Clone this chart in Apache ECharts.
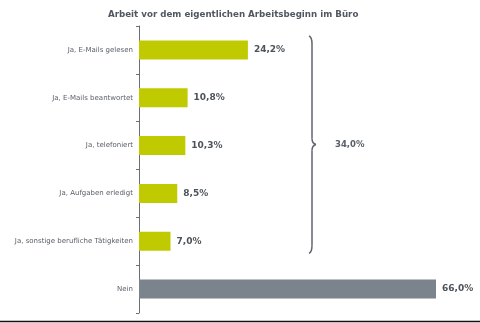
<!DOCTYPE html>
<html><head><meta charset="utf-8">
<script src="https://cdn.jsdelivr.net/npm/echarts@6/dist/echarts.min.js"></script>
<style>html,body{margin:0;padding:0;background:#fff}#c{width:480px;height:323px}</style>
</head><body><div id="c"></div>
<script>
const titleText = "Arbeit vor dem eigentlichen Arbeitsbeginn im Büro";
const categories = ["Ja, E-Mails gelesen","Ja, E-Mails beantwortet","Ja, telefoniert","Ja, Aufgaben erledigt","Ja, sonstige berufliche Tätigkeiten","Nein"];
const values = [24.2, 10.8, 10.3, 8.5, 7.0, 66.0];
const groupTotalLabel = "34,0%";
const groupCount = 5;

const green = "#bfcb00", grey = "#7b848d";
const chart = echarts.init(document.getElementById('c'), null, {renderer:'canvas'});
chart.setOption({
  animation:false,
  title:{text:titleText,left:103,top:5,textStyle:{fontFamily:'DejaVu Sans',fontSize:8.7,fontWeight:'bold',color:'#50575f'}},
  grid:{left:139,right:26,top:26,bottom:10},
  xAxis:{type:'value',min:0,max:70,show:false},
  yAxis:{type:'category',data:categories,inverse:true,
    axisLine:{lineStyle:{color:'#6b6f75',width:1}},
    axisTick:{show:true,length:3,lineStyle:{color:'#6b6f75'}},
    axisLabel:{fontFamily:'DejaVu Sans',fontSize:7,color:'#5b6068',margin:6}},
  series:[{type:'bar',barWidth:19,
    data:values.map((v,i)=>({value:v,itemStyle:{color:i<groupCount?green:grey}})),
    label:{show:true,position:'right',distance:6,fontFamily:'DejaVu Sans',fontSize:9,fontWeight:'bold',color:'#4d535a',
      formatter:p=>p.value.toFixed(1).replace('.',',')+'%'}}]
});
const yTop = chart.convertToPixel({yAxisIndex:0}, 0) - 14;
const yBot = chart.convertToPixel({yAxisIndex:0}, groupCount-1) + 12;
const ym = (yTop+yBot)/2;
const bx = 312;
const st = {fill:null,stroke:'#60656b',lineWidth:1.5};
chart.setOption({graphic:[
  {type:'bezierCurve',shape:{x1:bx-3,y1:yTop,cpx1:bx,cpy1:yTop+1,x2:bx,y2:yTop+8},style:st},
  {type:'line',shape:{x1:bx,y1:yTop+8,x2:bx,y2:ym-6},style:st},
  {type:'bezierCurve',shape:{x1:bx,y1:ym-6,cpx1:bx,cpy1:ym-1,x2:bx+4,y2:ym},style:st},
  {type:'bezierCurve',shape:{x1:bx+4,y1:ym,cpx1:bx,cpy1:ym+1,x2:bx,y2:ym+6},style:st},
  {type:'line',shape:{x1:bx,y1:ym+6,x2:bx,y2:yBot-8},style:st},
  {type:'bezierCurve',shape:{x1:bx,y1:yBot-8,cpx1:bx,cpy1:yBot-1,x2:bx-3,y2:yBot},style:st},
  {type:'text',x:335,y:ym,style:{text:groupTotalLabel,fontFamily:'DejaVu Sans',fontSize:8.5,fontWeight:'bold',fill:'#5a6068',verticalAlign:'middle'}},
  {type:'line',shape:{x1:0,y1:321.5,x2:480,y2:321.5},style:{stroke:'#111',lineWidth:1.5}}
]});
</script></body></html>
